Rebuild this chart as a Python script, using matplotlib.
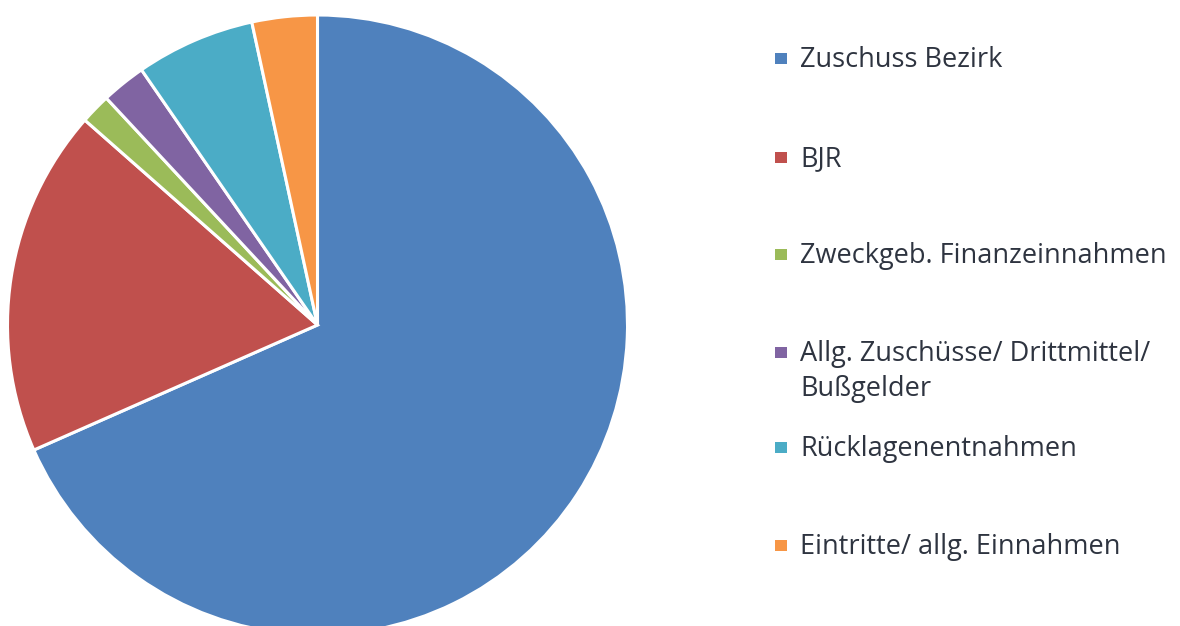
import matplotlib
matplotlib.use("Agg")
import matplotlib.pyplot as plt
from matplotlib.patches import Rectangle

labels = ["Zuschuss Bezirk", "BJR", "Zweckgeb. Finanzeinnahmen",
          "Allg. Zuschüsse/ Drittmittel/\nBußgelder", "Rücklagenentnahmen",
          "Eintritte/ allg. Einnahmen"]
values = [68.4, 18.1, 1.58, 2.32, 6.21, 3.40]
colors = ["#4F81BD", "#C0504D", "#9BBB59", "#8064A2", "#4BACC6", "#F79646"]

W, H = 1180, 626
fig = plt.figure(figsize=(W / 100, H / 100), dpi=100)
fig.patch.set_facecolor("white")

# pie axes: radius 310 px, centre (317.5, 325) from top
R = 310
cx, cy = 317.5, H - 325
ax = fig.add_axes([(cx - R) / W, (cy - R) / H, 2 * R / W, 2 * R / H])
ax.pie(values, colors=colors, startangle=90, counterclock=False, radius=1.0,
       wedgeprops=dict(edgecolor="white", linewidth=2.2))
ax.set_xlim(-1, 1)
ax.set_ylim(-1, 1)
ax.set_aspect("equal")
ax.axis("off")

# legend drawn manually
text_color = "#2E3440"
y_pos = [58, 157, 254, 352, 447, 545]
line_gap = 35
for lab, col, yp in zip(labels, colors, y_pos):
    fig.patches.append(Rectangle(((775) / W, (H - yp - 5.5) / H), 12 / W, 11 / H,
                                 transform=fig.transFigure, facecolor=col,
                                 edgecolor="none"))
    for i, line in enumerate(lab.split("\n")):
        fig.text(800 / W, (H - yp - 2 - i * line_gap) / H, line, fontsize=19.5,
                 family="Open Sans", color=text_color, va="center", ha="left")

fig.savefig("out.png", dpi=100, facecolor="white")
